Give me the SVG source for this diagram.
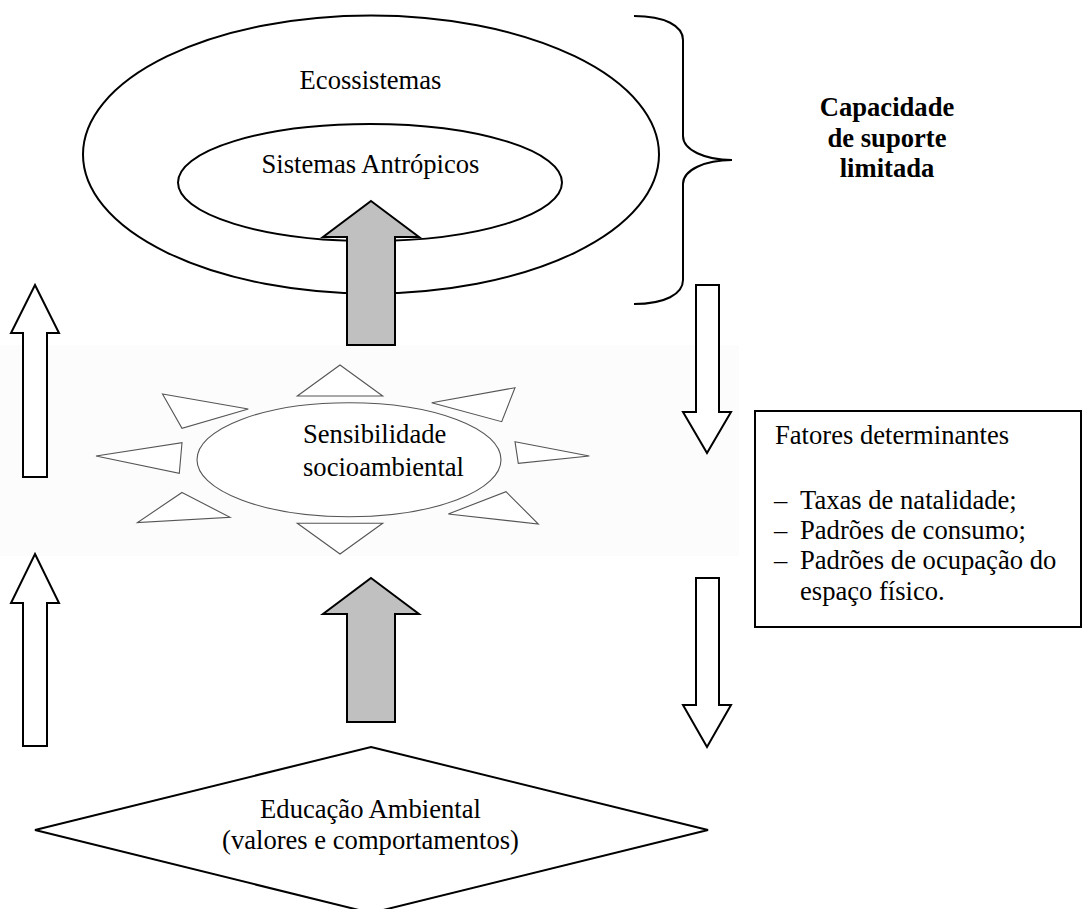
<svg xmlns="http://www.w3.org/2000/svg" width="1082" height="909" viewBox="0 0 1082 909">
<style>
  .t { font-family: "Liberation Serif", "Times New Roman", serif; font-size: 26.6px; fill: #000; }
  .b { font-weight: bold; }
  .m { text-anchor: middle; }
  .shape { fill: #fff; stroke: #000; stroke-width: 2; }
  .gray { fill: #c0c0c0; stroke: #000; stroke-width: 2; stroke-linejoin: miter; }
  .hollow { fill: #fff; stroke: #000; stroke-width: 2; }
  .ray { fill: #fff; stroke: #555; stroke-width: 1.1; }
</style>
<rect x="0" y="0" width="1082" height="909" fill="#fff"/>
<rect x="0" y="345" width="739" height="211" fill="#fcfcfc"/>

<g id="ecossistemas">
  <ellipse class="shape" cx="371" cy="154.5" rx="288" ry="139"/>
  <text class="t m" x="370.5" y="89">Ecossistemas</text>
</g>
<g id="sistemas-antropicos">
  <ellipse class="shape" cx="370" cy="182.5" rx="192" ry="58.5"/>
  <text class="t m" x="370.5" y="173">Sistemas Antrópicos</text>
</g>

<g id="capacidade">
  <path d="M634,16 C665,16 683,26 683,40 L683,136 C683,150 705,160 732,160 C705,160 683,170 683,184 L683,280 C683,294 665,304 634,304" fill="none" stroke="#000" stroke-width="2"/>
  <text class="t b m" x="887" y="116">Capacidade</text>
  <text class="t b m" x="887" y="147">de suporte</text>
  <text class="t b m" x="887" y="177">limitada</text>
</g>

<g id="sensibilidade">
  <ellipse cx="349" cy="459.7" rx="152" ry="57" fill="#fff" stroke="#555" stroke-width="1.1"/>
  <polygon class="ray" points="340,365 382.7,396 297.3,396"/>
  <polygon class="ray" points="297.3,523.3 382.7,523.3 340,554"/>
  <polygon class="ray" points="162.5,394 248.3,409 182,428.3"/>
  <polygon class="ray" points="96,456 182,442.7 179.3,473.3"/>
  <polygon class="ray" points="182,492.5 230,517.3 137.5,522.5"/>
  <polygon class="ray" points="515,387.7 431.7,402.7 501.7,421.7"/>
  <polygon class="ray" points="515,441.7 589.3,456 518.3,463.3"/>
  <polygon class="ray" points="506,491.7 538.3,524 448.3,514"/>
  <text class="t" x="303" y="443">Sensibilidade</text>
  <text class="t" x="303" y="476">socioambiental</text>
</g>

<g id="fatores">
  <rect x="755" y="411" width="326" height="216" fill="#fff" stroke="#000" stroke-width="2"/>
  <text class="t" x="775" y="444">Fatores determinantes</text>
  <text class="t" x="774" y="509">–</text><text class="t" x="800" y="509">Taxas de natalidade;</text>
  <text class="t" x="774" y="539">–</text><text class="t" x="800" y="539">Padrões de consumo;</text>
  <text class="t" x="774" y="569">–</text><text class="t" x="800" y="569">Padrões de ocupação do</text>
  <text class="t" x="800" y="600">espaço físico.</text>
</g>

<g id="educacao">
  <polygon class="shape" points="371,747 708,830 371,913 35,830"/>
  <text class="t m" x="370.5" y="818">Educação Ambiental</text>
  <text class="t m" x="370.5" y="849">(valores e comportamentos)</text>
</g>

<g id="connectors">
  <polygon class="gray" points="371,201 419,237 395,237 395,345 347,345 347,237 323,237"/>
  <polygon class="gray" points="371,578 419,614 395,614 395,722 347,722 347,614 323,614"/>
  <polygon class="hollow" points="35,285 59,333 47,333 47,477 23,477 23,333 11,333"/>
  <polygon class="hollow" points="35,554 59,603 47,603 47,746 23,746 23,603 11,603"/>
  <polygon class="hollow" points="696,285 719,285 719,412 731,412 707,453 683,412 696,412"/>
  <polygon class="hollow" points="696,578 719,578 719,705 731,705 707,747 683,705 696,705"/>
</g>
</svg>
